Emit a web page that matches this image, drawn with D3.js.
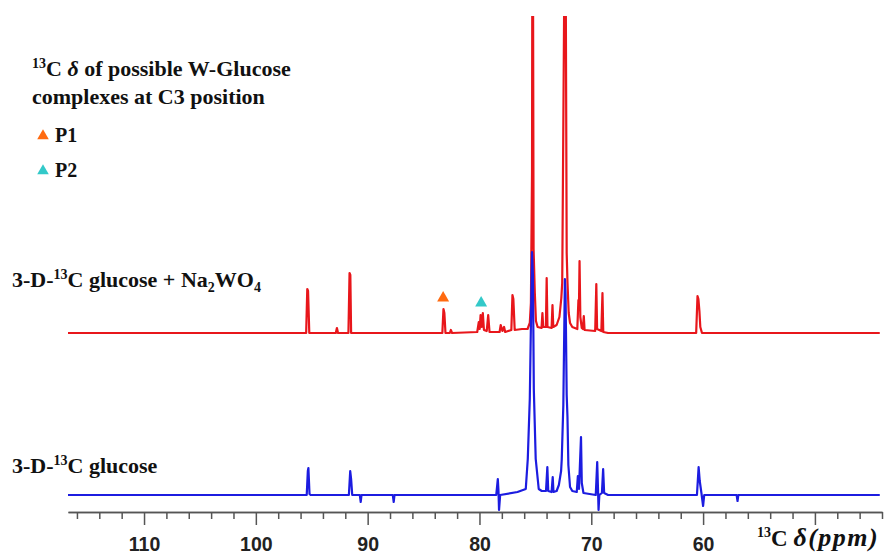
<!DOCTYPE html>
<meta charset="utf-8">
<style>
  body { margin: 0; background: #fff; }
  svg text { font-family: "Liberation Serif", "Times New Roman", serif; font-weight: bold; fill: #111; }
  .axis text { font-family: "Liberation Sans", Arial, sans-serif; font-size: 19.5px; fill: #222; }
  .axis path, .axis line { stroke: #555; stroke-width: 1.5; }
</style>
<script src="https://d3js.org/d3.v7.min.js"></script>
<div id="chart"></div>
<script>

// spectra: [ppm, intensity], baseline = 0
var redTrace = [
  [116.8, 0], [95.5, 0], [95.4, 22], [95.33, 21], [95.22, 0],
  [92.85, 0], [92.75, 2.5], [92.65, 0],
  [91.72, 0], [91.62, 30], [91.55, 29], [91.48, 0],
  [83.32, 0], [83.22, 12], [83.14, 10], [83.04, 0],
  [82.65, 0], [82.56, 1.5], [82.45, 0],
  [80.2, 0.5], [80.06, 5.5], [79.98, 2], [79.9, 9], [79.8, 3], [79.7, 10], [79.6, 1.5],
  [79.35, 1], [79.22, 9], [79.1, 0.5],
  [78.2, 0.5], [78.1, 4], [77.95, 1], [77.8, 3], [77.7, 0.5],
  [77.15, 1.5], [77.05, 19], [76.97, 17], [76.85, 1.5],
  [76.2, 2], [75.7, 2], [75.5, 5], [75.4, 15], [75.3, 80], [75.27, 200], [75.22, 200],
  [75.16, 42], [75.05, 20], [74.95, 6], [74.8, 3],
  [74.45, 2.5], [74.37, 10], [74.3, 3],
  [74.06, 3], [73.99, 27.5], [73.92, 3],
  [73.55, 2.5], [73.47, 14], [73.4, 3],
  [73.1, 4], [72.85, 8], [72.68, 17.5], [72.6, 25], [72.38, 200], [72.3, 200],
  [72.2, 40], [72.13, 25.5], [72.02, 10], [71.9, 5], [71.7, 3],
  [71.25, 2], [71.15, 16.5], [71.1, 14], [71.05, 36], [70.98, 8], [70.85, 2.5],
  [70.75, 2], [70.67, 8.5], [70.6, 1.5],
  [69.65, 1], [69.55, 24.5], [69.48, 2],
  [69.1, 1], [69.0, 20], [68.93, 0.5], [68.5, 0],
  [60.62, 0], [60.5, 18.5], [60.42, 17], [60.33, 11], [60.25, 3], [60.1, 0],
  [44.2, 0]
];

var blueTrace = [
  [116.8, 0], [95.45, 0], [95.35, 12], [95.3, 13.5], [95.2, 0.5], [95.1, 0],
  [91.68, 0], [91.56, 12], [91.48, 8], [91.38, 0],
  [90.7, 0], [90.62, -3.5], [90.55, 0],
  [87.75, 0], [87.67, -3.5], [87.6, 0],
  [78.5, 0], [78.36, 8], [78.3, 2], [78.25, -7.5], [78.15, 0],
  [76.6, 1.5], [75.86, 3], [75.68, 18], [75.5, 48], [75.3, 121.5], [75.22, 110],
  [75.14, 53], [74.97, 18], [74.7, 3], [74.43, 2],
  [74.05, 2], [73.93, 14], [73.85, 2],
  [73.55, 1.5], [73.45, 9], [73.38, 1.5],
  [73.1, 2], [72.9, 5], [72.7, 12], [72.64, 18], [72.5, 45], [72.36, 108], [72.3, 100],
  [72.2, 50], [72.13, 39], [72.05, 15], [71.9, 4], [71.7, 2],
  [71.3, 1.5], [71.2, 9.5], [71.1, 3], [70.92, 29], [70.85, 6], [70.7, 1],
  [69.6, 0], [69.47, 16.5], [69.4, 3], [69.35, -7.5], [69.28, 0],
  [69.05, 1], [68.94, 13], [68.85, 1], [68.5, 0],
  [60.55, 0], [60.4, 14], [60.3, 7], [60.15, 1], [60.0, -5.5], [59.9, 0],
  [57.0, 0], [56.92, -3], [56.85, 0],
  [44.2, 0]
];

var traceOffsets = [81, 0];           // red stacked above blue
var traceColors = ["#e8161b", "#1c1ce0"];

var majorTicks = [110, 100, 90, 80, 70, 60, 50];
var majorLabels = ["110", "100", "90", "80", "70", "60", ""];
var minorTicks = [116, 114, 112, 108, 106, 104, 102, 98, 96, 94, 92, 88, 86, 84, 82,
                  78, 76, 74, 72, 68, 66, 64, 62, 58, 56, 54, 52, 48, 46, 44];

// C3 markers: P1, P2
var markerNames = ["P1", "P2"];
var markerPpm = [83.25, 79.85];
var markerLevel = [17.5, 15];
var markerColors = ["#ff6a10", "#33c9c9"];

var width = 885, height = 557;

var svg = d3.select("#chart").append("svg")
  .attr("width", width)
  .attr("height", height);

var x = d3.scaleLinear().domain([116.8, 44.0]).range([68, 882]);
var y = d3.scaleLinear().domain([0, 100]).range([495, 295]);

svg.append("clipPath").attr("id", "clip")
  .append("rect").attr("x", 0).attr("y", 16).attr("width", width).attr("height", height);

var line = d3.line()
  .x(function(d) { return x(d[0]); })
  .y(function(d) { return y(d[1]); });

var traces = [redTrace, blueTrace];
traces.forEach(function(t, i) {
  svg.append("path")
    .datum(t.map(function(d) { return [d[0], d[1] + traceOffsets[i]]; }))
    .attr("clip-path", "url(#clip)")
    .attr("fill", "none")
    .attr("stroke", traceColors[i])
    .attr("stroke-width", 2.2)
    .attr("stroke-linejoin", "round")
    .attr("d", line);
});

// markers above the red trace
var tri = d3.symbol().type(d3.symbolTriangle).size(62);
markerPpm.forEach(function(p, i) {
  svg.append("path")
    .attr("d", tri)
    .attr("fill", markerColors[i])
    .attr("transform", "translate(" + x(p) + "," + y(markerLevel[i] + traceOffsets[0]) + ")");
});

// x axis
var axisY = 512;
svg.append("g")
  .attr("class", "axis")
  .attr("transform", "translate(0," + axisY + ")")
  .call(d3.axisBottom(x).tickValues(minorTicks).tickSize(7).tickFormat("").tickSizeOuter(0));
var ax = svg.append("g")
  .attr("class", "axis")
  .attr("transform", "translate(0," + axisY + ")")
  .call(d3.axisBottom(x).tickValues(majorTicks).tickSize(13).tickSizeOuter(0)
    .tickFormat(function(d, i) { return majorLabels[i]; }));
ax.selectAll("text").attr("y", 39).attr("dy", 0);

// axis title
var at = svg.append("text").attr("x", 757).attr("y", 546).style("font-size", "23px");
at.append("tspan").text("13").style("font-size", "14px").attr("dy", -9);
at.append("tspan").text("C ").attr("dy", 9);
at.append("tspan").text("δ(ppm)").style("font-style", "italic").style("font-size", "26px")
  .style("letter-spacing", "1.5px");

// trace labels
var l1 = svg.append("text").attr("x", 12).attr("y", 287).style("font-size", "22px");
l1.append("tspan").text("3-D-");
l1.append("tspan").text("13").style("font-size", "14px").attr("dy", -8);
l1.append("tspan").text("C glucose + Na").attr("dy", 8);
l1.append("tspan").text("2").style("font-size", "14px").attr("dy", 5);
l1.append("tspan").text("WO").attr("dy", -5);
l1.append("tspan").text("4").style("font-size", "14px").attr("dy", 5);

var l2 = svg.append("text").attr("x", 12).attr("y", 473).style("font-size", "22px");
l2.append("tspan").text("3-D-");
l2.append("tspan").text("13").style("font-size", "14px").attr("dy", -8);
l2.append("tspan").text("C glucose").attr("dy", 8);

// legend block
var t1 = svg.append("text").attr("x", 32).attr("y", 76).style("font-size", "22px");
t1.append("tspan").text("13").style("font-size", "14px").attr("dy", -8);
t1.append("tspan").text("C ").attr("dy", 8);
t1.append("tspan").text("δ").style("font-style", "italic");
t1.append("tspan").text(" of possible W-Glucose");
svg.append("text").attr("x", 32).attr("y", 104).style("font-size", "22px")
  .text("complexes at C3 position");

var legTri = d3.symbol().type(d3.symbolTriangle).size(58);
markerNames.forEach(function(n, i) {
  var ly = 142 + i * 35;
  svg.append("path").attr("d", legTri).attr("fill", markerColors[i])
    .attr("transform", "translate(43," + (ly - 6) + ")");
  svg.append("text").attr("x", 55).attr("y", ly).style("font-size", "20px").text(n);
});

</script>
